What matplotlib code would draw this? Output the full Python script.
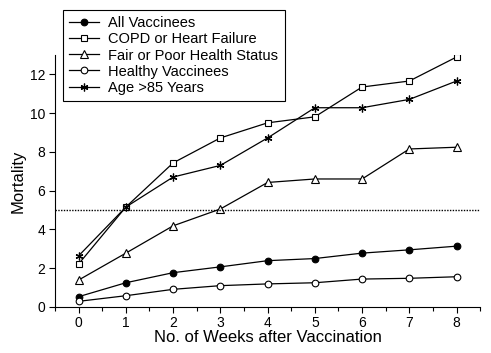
import numpy as np
import matplotlib.pyplot as plt
from matplotlib.ticker import MultipleLocator

plt.rcParams['font.family'] = ['Liberation Sans', 'DejaVu Sans']

# weeks after vaccination
weeks = [0, 1, 2, 3, 4, 5, 6, 7, 8]

# mortality by group
all_vacc = [0.52, 1.24, 1.76, 2.06, 2.38, 2.49, 2.77, 2.94, 3.13]
copd = [2.21, 5.15, 7.43, 8.72, 9.5, 9.81, 11.35, 11.66, 12.9]
fair_poor = [1.38, 2.77, 4.18, 5.05, 6.42, 6.6, 6.6, 8.15, 8.24]
healthy = [0.28, 0.57, 0.9, 1.09, 1.18, 1.24, 1.43, 1.47, 1.55]
age85 = [2.63, 5.15, 6.7, 7.3, 8.72, 10.28, 10.28, 10.71, 11.66]

fig = plt.figure(figsize=(4.91, 3.53), dpi=100)
ax = fig.add_axes([0.112, 0.131, 0.866, 0.713])

ms = 4.8
lw = 0.9
ax.plot(weeks, all_vacc, '-o', color='black', mfc='black', ms=ms, lw=lw, mew=0.8, label='All Vaccinees')
ax.plot(weeks, copd, '-s', color='black', mfc='white', ms=ms, lw=lw, mew=0.8, label='COPD or Heart Failure')
ax.plot(weeks, fair_poor, '-^', color='black', mfc='white', ms=ms + 0.6, lw=lw, mew=0.8, label='Fair or Poor Health Status')
ax.plot(weeks, healthy, '-o', color='black', mfc='white', ms=ms, lw=lw, mew=0.8, label='Healthy Vaccinees')
ax.plot(weeks, age85, '-', color='black', marker=(6, 2, 0), ms=ms + 0.8, lw=lw, mew=0.9, label='Age >85 Years')

# reference line at 5
ax.axhline(5, color='black', lw=1.0, ls=(0, (1, 1)))

ax.set_xlim(-0.5, 8.5)
ax.set_ylim(0, 13)
ax.set_xticks(weeks)
ax.xaxis.set_minor_locator(MultipleLocator(0.5))
ax.set_yticks([0, 2, 4, 6, 8, 10, 12])
ax.tick_params(axis='both', labelsize=10, direction='out', length=4, width=0.8, pad=3)
ax.tick_params(axis='x', which='minor', length=3, width=0.8)
ax.spines['top'].set_visible(False)
ax.spines['right'].set_visible(False)

ax.set_xlabel('No. of Weeks after Vaccination', fontsize=12, labelpad=0)
ax.set_ylabel('Mortality', fontsize=12, labelpad=3)

leg = fig.legend(loc='upper left', bbox_to_anchor=(0.128, 0.972), fontsize=10.5,
                 frameon=True, fancybox=False, edgecolor='black', framealpha=1,
                 handlelength=2.05, labelspacing=0.14, borderpad=0.45, handletextpad=0.6,
                 borderaxespad=0)
leg.get_frame().set_linewidth(0.8)

fig.savefig('out.png', dpi=100)
